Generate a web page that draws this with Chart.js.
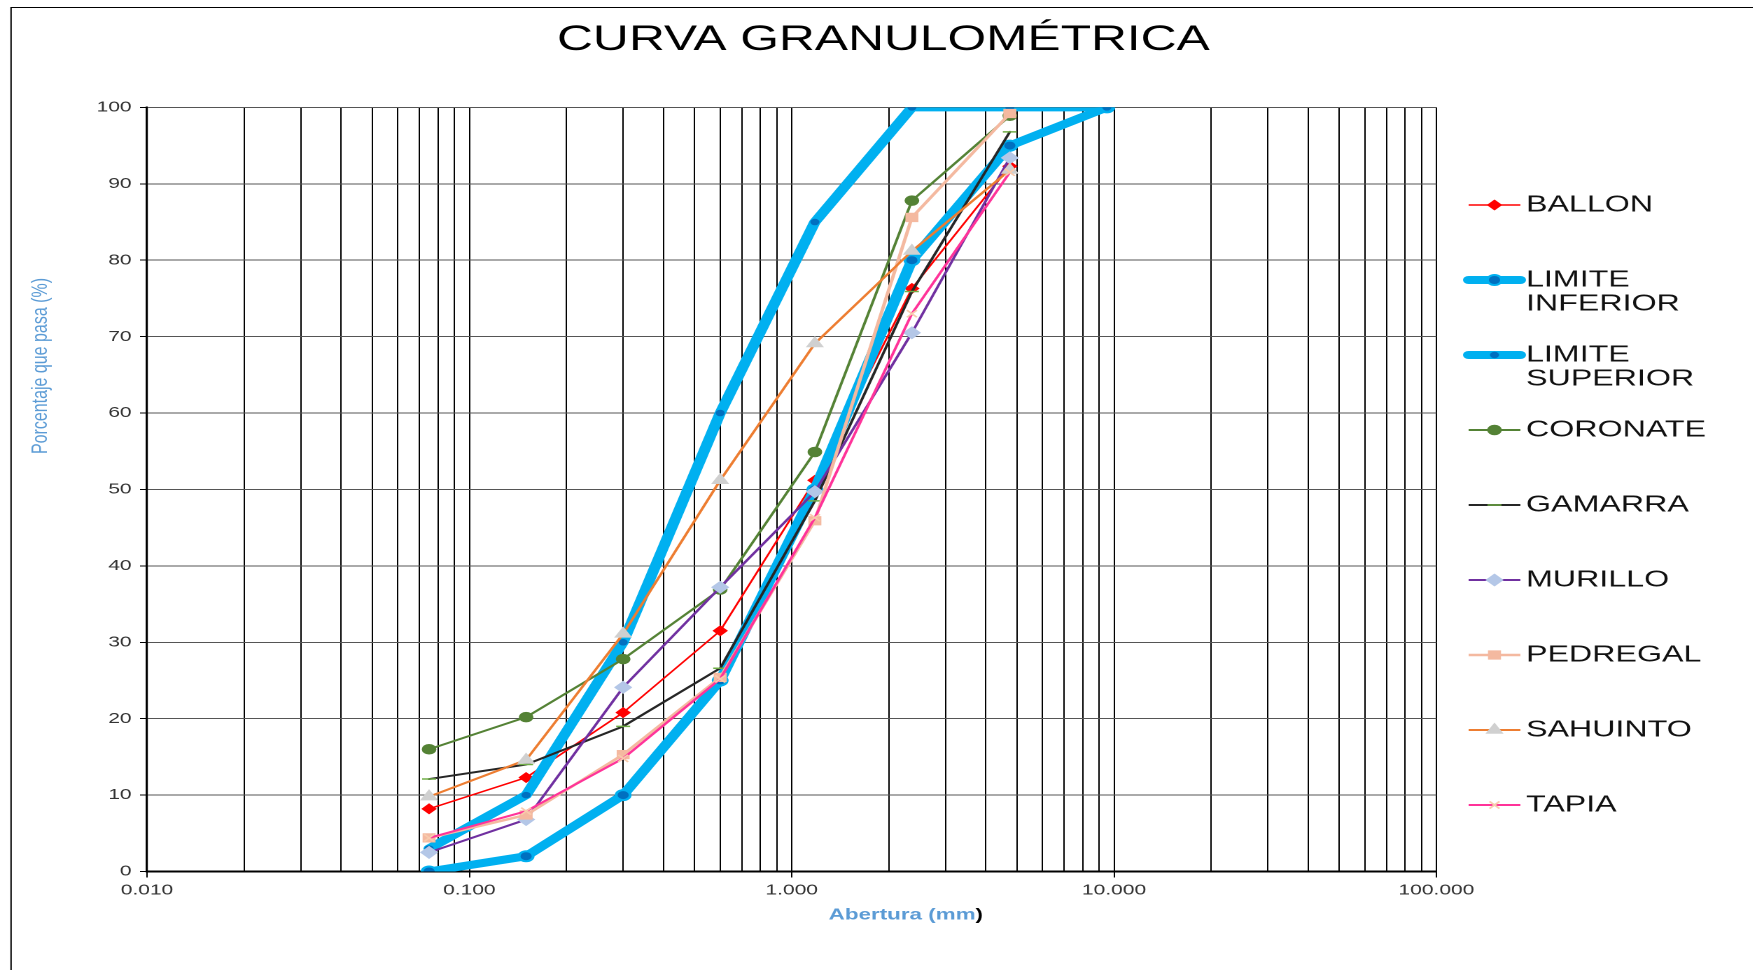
<!DOCTYPE html>
<html>
<head>
<meta charset="utf-8">
<script src="https://cdn.jsdelivr.net/npm/chart.js@4.4.1/dist/chart.umd.min.js"></script>
<style>
  html, body { margin: 0; padding: 0; background: #fff; overflow: hidden; }
  /* the reference is stretched sideways, so the whole chart is drawn narrow and scaled */
  #wrap { position: absolute; left: 0; top: 0; width: 1252px; height: 970px;
          transform: scaleX(1.4); transform-origin: 0 0; }
</style>
</head>
<body>
<div id="wrap"><canvas id="curva-chart"></canvas></div>
<script>
// sieve openings (mm)
const sieveSizes = [0.075, 0.15, 0.3, 0.6, 1.18, 2.36, 4.75, 9.5];

const seriesNames = ["BALLON", "LIMITE INFERIOR", "LIMITE SUPERIOR", "CORONATE",
    "GAMARRA", "MURILLO", "PEDREGAL", "SAHUINTO", "TAPIA"];

// % passing
const ballon = [8.2, 12.3, 20.8, 31.5, 51.2, 76.3, 92.3];
const limiteInferior = [0, 2, 10, 25, 50, 80, 95, 100];
const limiteSuperior = [3, 10, 30, 60, 85, 100, 100, 100];
const coronate = [16.0, 20.2, 27.8, 36.9, 54.9, 87.8, 98.9];
const gamarra = [12.1, 14.0, 19.0, 26.6, 48.5, 75.9, 96.8];
const murillo = [2.5, 6.8, 24.1, 37.2, 49.7, 70.5, 93.4];
const pedregal = [4.4, 7.4, 15.3, 25.4, 45.9, 85.6, 99.2];
const sahuinto = [9.8, 14.6, 31.1, 51.2, 69.1, 81.2, 91.8];
const tapia = [4.4, 7.9, 14.8, 25.2, 46.3, 73.0, 91.5];

const xTickValues = [0.01, 0.1, 1, 10, 100];
const xTickLabels = ["0.010", "0.100", "1.000", "10.000", "100.000"];

const FONT = "'Liberation Sans', Arial, sans-serif";

// log grid: 1..9 in every decade
const xGridValues = [];
for (let d = 0; d < xTickValues.length - 1; d++) {
    for (let k = 1; k <= 9; k++) xGridValues.push(k * xTickValues[d]);
}
xGridValues.push(xTickValues[xTickValues.length - 1]);

function isDecade(v) {
    return xTickValues.findIndex(t => Math.abs(Math.log10(v) - Math.log10(t)) < 1e-6);
}

function toPoints(values) {
    return values.map((y, i) => ({ x: sieveSizes[i], y: y }));
}

const styles = [
    { color: "#FF0000", width: 1.5, point: "rectRot", fill: "#FF0000", edge: "#FF0000", r: 4.5 },
    { color: "#00B0F0", width: 8, point: "circle", fill: "#0070C0", edge: "#00B0F0", r: 5, pw: 2 },
    { color: "#00B0F0", width: 8, point: "circle", fill: "#0070C0", edge: "#0070C0", r: 2.5 },
    { color: "#548235", width: 2, point: "circle", fill: "#548235", edge: "#548235", r: 4.5 },
    { color: "#262626", width: 2, point: "line", fill: "#70AD47", edge: "#70AD47", r: 5 },
    { color: "#7030A0", width: 2, point: "rectRot", fill: "#B4C7E7", edge: "#B4C7E7", r: 5.5 },
    { color: "#F4B9A0", width: 2.5, point: "rect", fill: "#F4B9A0", edge: "#F4B9A0", r: 5.5 },
    { color: "#ED7D31", width: 2, point: "triangle", fill: "#D0D0D0", edge: "#D0D0D0", r: 6 },
    { color: "#FF3399", width: 2, point: "crossRot", fill: "#F8CBAD", edge: "#F8CBAD", r: 5 },
];

const seriesValues = [ballon, limiteInferior, limiteSuperior, coronate, gamarra,
    murillo, pedregal, sahuinto, tapia];

const datasets = seriesValues.map((vals, i) => ({
    label: seriesNames[i],
    data: toPoints(vals),
    borderColor: styles[i].color,
    backgroundColor: styles[i].color,
    borderWidth: styles[i].width,
    borderJoinStyle: "round",
    borderCapStyle: "round",
    pointStyle: styles[i].point,
    pointRadius: styles[i].r,
    pointHoverRadius: styles[i].r,
    pointBackgroundColor: styles[i].fill,
    pointBorderColor: styles[i].edge,
    pointBorderWidth: styles[i].pw || 1.5,
    tension: 0,
    fill: false,
    order: seriesValues.length - i, // later series on top, like the original
}));

const textPlugin = {
    id: "textPlugin",
    afterDraw(chart) {
        const ctx = chart.ctx;
        ctx.save();

        // frame of the picture (left and top only are visible)
        ctx.strokeStyle = "#000";
        ctx.lineWidth = 1;
        ctx.beginPath();
        ctx.moveTo(7.9, 975);
        ctx.lineTo(7.9, 7.5);
        ctx.lineTo(1260, 7.5);
        ctx.stroke();

        // title
        ctx.fillStyle = "#000";
        ctx.font = "35.5px " + FONT;
        ctx.textAlign = "center";
        ctx.textBaseline = "middle";
        ctx.fillText("CURVA GRANULOMÉTRICA", 631, 40);

        // y axis title
        ctx.save();
        ctx.translate(29.3, 366);
        ctx.rotate(-Math.PI / 2);
        ctx.font = "16px 'Liberation Sans Narrow', 'Arial Narrow', " + FONT;
        ctx.fillStyle = "#5B9BD5";
        ctx.fillText("Porcentaje que pasa (%)", 0, 0);
        ctx.restore();

        // x axis title
        ctx.font = "bold 16px " + FONT;
        ctx.textAlign = "left";
        const part1 = "Abertura (mm";
        const w1 = ctx.measureText(part1).width;
        const w2 = ctx.measureText(")").width;
        const x0 = 647 - (w1 + w2) / 2;
        ctx.fillStyle = "#5B9BD5";
        ctx.fillText(part1, x0, 915);
        ctx.fillStyle = "#000";
        ctx.fillText(")", x0 + w1, 915);

        // legend
        chart.data.datasets.forEach((ds, i) => {
            const y = 205 + 75 * i;
            ctx.strokeStyle = ds.borderColor;
            ctx.lineWidth = ds.borderWidth;
            ctx.lineCap = ds.borderWidth > 4 ? "round" : "butt";
            ctx.beginPath();
            ctx.moveTo(1049, y);
            ctx.lineTo(1086, y);
            ctx.stroke();
            ctx.fillStyle = ds.pointBackgroundColor;
            ctx.strokeStyle = ds.pointBorderColor;
            ctx.lineWidth = ds.pointBorderWidth;
            Chart.helpers.drawPoint(ctx, {
                pointStyle: ds.pointStyle, rotation: 0,
                radius: ds.pointRadius, borderWidth: ds.pointBorderWidth,
            }, 1067.5, y);

            ctx.fillStyle = "#111";
            ctx.font = "23px " + FONT;
            ctx.textAlign = "left";
            ctx.textBaseline = "middle";
            ds.label.split(" ").forEach((line, j) => {
                ctx.fillText(line, 1090, y + 24 * j);
            });
        });
        ctx.restore();
    },
};

const curvaContext = document.getElementById("curva-chart");

const curvaConfig = {
    type: "line",
    data: { datasets: datasets },
    options: {
        responsive: true,
        maintainAspectRatio: false,
        animation: false,
        devicePixelRatio: 2,
        layout: { padding: { left: 0, right: 226, top: 107.4, bottom: 0 } },
        plugins: {
            legend: { display: false },
            title: { display: false },
            tooltip: { enabled: false },
        },
        scales: {
            x: {
                type: "logarithmic",
                min: 0.01,
                max: 100,
                afterBuildTicks: (scale) => {
                    scale.ticks = xGridValues.map(v => ({ value: v, major: isDecade(v) >= 0 }));
                },
                afterFit: (scale) => { scale.height = 98.5; },
                ticks: {
                    autoSkip: false,
                    maxRotation: 0,
                    minRotation: 0,
                    padding: 4,
                    color: "#333",
                    font: { family: FONT, size: 15 },
                    callback: (value) => {
                        const k = isDecade(value);
                        return k >= 0 ? xTickLabels[k] : "";
                    },
                },
                grid: {
                    color: "#000",
                    lineWidth: 1,
                    tickLength: 6,
                    tickColor: (c) => (c.tick && isDecade(c.tick.value) >= 0 ? "#000" : "rgba(0,0,0,0)"),
                },
                border: { display: true, color: "#000", width: 2 },
            },
            y: {
                min: 0,
                max: 100,
                afterFit: (scale) => { scale.width = 105; },
                ticks: {
                    stepSize: 10,
                    padding: 6,
                    color: "#333",
                    font: { family: FONT, size: 15 },
                },
                grid: { color: "#555", lineWidth: 1, tickLength: 5, tickColor: "#000" },
                border: { display: true, color: "#000", width: 1.6 },
            },
        },
    },
    plugins: [textPlugin],
};

const curvaChart = new Chart(curvaContext, curvaConfig);
</script>
</body>
</html>
